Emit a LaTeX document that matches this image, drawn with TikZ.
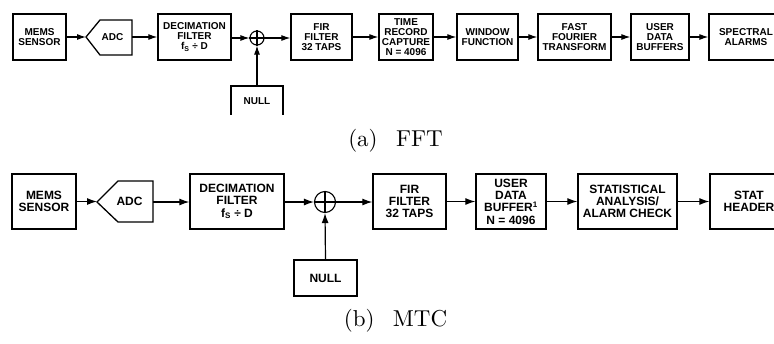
\documentclass[tikz,border=0pt]{standalone}
\usepackage{fontspec}
\newfontfamily\blockfont{Liberation Sans}
\newfontfamily\capfont{lmroman10-regular.otf}
\usetikzlibrary{arrows.meta}
\tikzset{
  blk/.style={draw, line width=1.3pt, inner sep=0pt, align=center, font=\blockfont\bfseries\fontsize{10}{10}\selectfont},
  blkb/.style={blk, font=\blockfont\bfseries\fontsize{12}{12.3}\selectfont},
  lbl/.style={inner sep=0pt, align=center, font=\blockfont\bfseries\fontsize{10}{10}\selectfont},
  lblb/.style={lbl, font=\blockfont\bfseries\fontsize{12}{12.3}\selectfont},
  sumc/.style={draw, circle, line width=1.1pt, inner sep=0pt},
  flow/.style={line width=1.1pt, -{Latex[length=9pt,width=6pt]}},
  flowb/.style={line width=1.2pt, -{Latex[length=10pt,width=7pt]}},
  captext/.style={inner sep=0pt, anchor=base, font=\capfont\fontsize{23}{26}\selectfont}
}
\begin{document}
\begin{tikzpicture}[x=1pt,y=-1pt]
\useasboundingbox (0,0) rectangle (774,343);
\clip (0,0) rectangle (774,343);
% ---------------- (a) FFT ----------------
\node[blk, minimum width=53, minimum height=46] (mems1) at (39.5,37) {MEMS\\SENSOR};
\coordinate (adc1tip) at (86,37);
\coordinate (adc1out) at (132,37);
\draw[line width=1.3pt] (adc1tip) -- (100,20) -- (132,20) -- (132,55) -- (100,55) -- cycle;
\node[lbl] (adc1) at (112.5,37) {ADC};
\node[blk, minimum width=73, minimum height=46] (dec1) at (194.5,37) {DECIMATION\\FILTER\\f\textsubscript{S} ÷ D};
\node[sumc, minimum size=14] (sum1) at (257,38) {};
\draw[line width=1.1pt] (sum1.north) -- (sum1.south) (sum1.west) -- (sum1.east);
\begin{scope}
\clip (0,0) rectangle (774,114);
\node[blk, minimum width=52, minimum height=32] (null1) at (257,102) {};
\end{scope}
\node[lbl] (null1t) at (257,101) {NULL};
\node[blk, minimum width=61, minimum height=46] (fir1) at (321.5,37) {FIR\\FILTER\\32 TAPS};
\node[blk, minimum width=54, minimum height=46] (trc1) at (406,37) {TIME\\RECORD\\CAPTURE\\N = 4096};
\node[blk, minimum width=61, minimum height=46] (win1) at (487.5,37) {WINDOW\\FUNCTION};
\node[blk, minimum width=73, minimum height=46] (fft1) at (574.5,37) {FAST\\FOURIER\\TRANSFORM};
\node[blk, minimum width=58, minimum height=46] (udb1) at (660,37) {USER\\DATA\\BUFFERS};
\node[blk, minimum width=74, minimum height=46] (spa1) at (746,37) {SPECTRAL\\ALARMS};
\draw[flow] (mems1.east) -- (adc1tip);
\draw[flow] (adc1out) -- (dec1.west);
\draw[flow] (dec1.east |- sum1.west) -- (sum1.west);
\draw[flow] (null1.north) -- (sum1.south);
\draw[flow] (sum1.east) -- (fir1.west |- sum1.east);
\draw[flow] (fir1.east) -- (trc1.west);
\draw[flow] (trc1.east) -- (win1.west);
\draw[flow] (win1.east) -- (fft1.west);
\draw[flow] (fft1.east) -- (udb1.west);
\draw[flow] (udb1.east) -- (spa1.west);
\node[captext] (capa) at (395.5,146) {(a)\hspace{0.8em}FFT};
% ---------------- (b) MTC ----------------
\node[blkb, minimum width=64, minimum height=55] (mems2) at (44,201.5) {MEMS\\SENSOR};
\coordinate (adc2tip) at (97,202);
\coordinate (adc2out) at (153,202);
\draw[line width=1.3pt] (adc2tip) -- (118,181) -- (153,181) -- (153,222) -- (118,222) -- cycle;
\node[lblb] (adc2) at (129.5,201.5) {ADC};
\node[blkb, minimum width=94, minimum height=55] (dec2) at (237,201.5) {DECIMATION\\FILTER\\f\textsubscript{S} ÷ D};
\node[sumc, minimum size=21] (sum2) at (325,202) {};
\draw[line width=1.1pt] (sum2.north) -- (sum2.south) (sum2.west) -- (sum2.east);
\node[blkb, minimum width=63, minimum height=36] (null2) at (325.5,278) {NULL};
\node[blkb, minimum width=73, minimum height=55] (fir2) at (409.5,201.5) {FIR\\FILTER\\32 TAPS};
\node[blkb, minimum width=70, minimum height=55] (udb2) at (511,201.5) {USER\\DATA\\BUFFER\textsuperscript{1}\\N = 4096};
\node[blkb, minimum width=99, minimum height=55] (sta2) at (627.5,201.5) {STATISTICAL\\ANALYSIS/\\ALARM CHECK};
\node[blkb, minimum width=78, minimum height=55] (hdr2) at (749,201.5) {STAT\\HEADER};
\draw[flowb] (mems2.east) -- (mems2.east -| adc2tip);
\draw[flowb] (adc2out) -- (adc2out -| dec2.west);
\draw[flowb] (dec2.east |- sum2.west) -- (sum2.west);
\draw[flowb] (null2.north) -- (sum2.south);
\draw[flowb] (sum2.east) -- (fir2.west |- sum2.east);
\draw[flowb] (fir2.east) -- (udb2.west);
\draw[flowb] (udb2.east) -- (sta2.west);
\draw[flowb] (sta2.east) -- (hdr2.west);
\node[captext] (capb) at (395.5,326) {(b)\hspace{0.8em}MTC};
\end{tikzpicture}
\end{document}
